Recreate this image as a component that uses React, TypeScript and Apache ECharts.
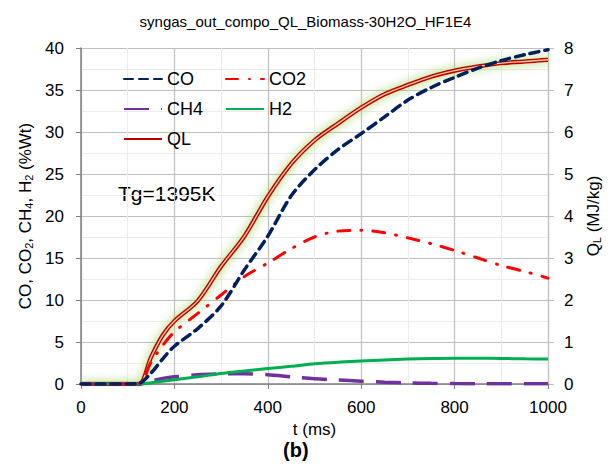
import React, { useEffect, useRef } from "react";
import * as echarts from "echarts";

const times = [0, 50, 100, 125, 150, 175, 200, 250, 300, 350, 400, 450, 500, 550, 600, 650, 700, 750, 800, 850, 900, 950, 1000];
const co = [0, 0, 0, 0.1, 1.3, 3.0, 4.5, 6.6, 9.3, 13.6, 17.6, 22.4, 25.5, 27.9, 29.8, 31.8, 33.8, 35.3, 36.5, 37.6, 38.5, 39.2, 39.8];
const co2 = [0, 0, 0, 0.1, 2.6, 4.6, 6.2, 8.4, 10.6, 12.8, 14.4, 16.1, 17.5, 18.2, 18.3, 18.0, 17.4, 16.7, 15.9, 15.0, 14.1, 13.4, 12.6];
const ch4 = [0, 0, 0, 0, 0.35, 0.65, 0.85, 1.1, 1.2, 1.22, 1.1, 0.85, 0.62, 0.47, 0.34, 0.22, 0.13, 0.08, 0.05, 0.04, 0.03, 0.02, 0.02];
const h2 = [0, 0, 0, 0, 0.15, 0.32, 0.5, 0.85, 1.25, 1.55, 1.85, 2.1, 2.4, 2.6, 2.74, 2.87, 2.97, 3.03, 3.06, 3.06, 3.04, 3.0, 2.97];
const ql = [0, 0, 0, 0, 0.64, 1.16, 1.5, 1.98, 2.8, 3.52, 4.46, 5.24, 5.8, 6.2, 6.58, 6.9, 7.12, 7.32, 7.46, 7.56, 7.64, 7.68, 7.72];

const xTicks = { min: 0, max: 1000, interval: 200 };
const yLeft = { min: 0, max: 40, interval: 5 };
const yRight = { min: 0, max: 8, interval: 1 };

const FONT = "'Liberation Sans', Arial, sans-serif";

const mk = (arr: number[]) => times.map((t, i) => [t, arr[i]]);

export default function App() {
  const ref = useRef<HTMLDivElement>(null);
  useEffect(() => {
    if (!ref.current) return;
    const chart = echarts.init(ref.current, undefined, { renderer: "svg" });
    const axisLabel = { fontSize: 17, color: "#000", fontFamily: FONT, formatter: (v: number) => String(v) };
    const lineBase = { type: "line", symbol: "none", showSymbol: false, smooth: 0.3 };
    const legendBase = {
      orient: "vertical",
      top: 65,
      itemWidth: 38,
      itemHeight: 14,
      itemGap: 12,
      itemStyle: { opacity: 0, borderWidth: 0 },
      textStyle: { fontSize: 18, color: "#000", fontFamily: FONT },
    };
    chart.setOption({
      animation: false,
      backgroundColor: "#fff",
      textStyle: { fontFamily: FONT },
      title: {
        text: "syngas_out_compo_QL_Biomass-30H2O_HF1E4",
        left: "center",
        top: 9,
        textStyle: { fontSize: 15, fontWeight: "normal", color: "#000", fontFamily: FONT },
      },
      grid: { left: 81, right: 63, top: 48, bottom: 84 },
      legend: [
        { ...legendBase, data: ["CO", "CH4", "QL"], left: 118 },
        { ...legendBase, data: ["CO2", "H2"], left: 220 },
      ],
      xAxis: {
        type: "value",
        ...xTicks,
        name: "t (ms)",
        nameLocation: "middle",
        nameGap: 36,
        nameTextStyle: { fontSize: 17, color: "#000", fontFamily: FONT },
        axisLine: { show: true, lineStyle: { color: "#7f7f7f", width: 1.5 } },
        axisTick: { show: true, length: 5, lineStyle: { color: "#7f7f7f" } },
        axisLabel: { ...axisLabel, margin: 15 },
        splitLine: { show: true, lineStyle: { color: "#bfbfbf", width: 1.2 } },
        minorTick: { show: false, splitNumber: 2 },
        minorSplitLine: { show: true, lineStyle: { color: "#ececec", width: 1 } },
      },
      yAxis: [
        {
          type: "value",
          ...yLeft,
          name: "CO, CO{s|2}, CH{s|4}, H{s|2} (%Wt)",
          nameLocation: "middle",
          nameRotate: 90,
          nameGap: 44,
          nameTextStyle: {
            fontSize: 17,
            color: "#000",
            fontFamily: FONT,
            rich: { s: { fontSize: 11, verticalAlign: "bottom", color: "#000", fontFamily: FONT } },
          },
          axisLine: { show: true, lineStyle: { color: "#7f7f7f", width: 1.5 } },
          axisTick: { show: true, length: 5, lineStyle: { color: "#7f7f7f" } },
          axisLabel: { ...axisLabel, margin: 17 },
          splitLine: { show: true, lineStyle: { color: "#bfbfbf", width: 1.2 } },
          minorTick: { show: false, splitNumber: 2 },
          minorSplitLine: { show: true, lineStyle: { color: "#ececec", width: 1 } },
        },
        {
          type: "value",
          ...yRight,
          position: "right",
          name: "Q{s|L} (MJ/kg)",
          nameLocation: "middle",
          nameRotate: 90,
          nameGap: 37,
          nameTextStyle: {
            fontSize: 17,
            color: "#000",
            fontFamily: FONT,
            rich: { s: { fontSize: 11, verticalAlign: "bottom", color: "#000", fontFamily: FONT } },
          },
          axisLine: { show: true, lineStyle: { color: "#bfbfbf", width: 1.2 } },
          axisTick: { show: true, length: 6, lineStyle: { color: "#bfbfbf" } },
          axisLabel: { ...axisLabel, margin: 16 },
          splitLine: { show: false },
        },
      ],
      series: [
        {
          ...lineBase,
          name: "QL",
          yAxisIndex: 1,
          data: mk(ql),
          color: "#c00000",
          z: 2,
          lineStyle: {
            color: "#c00000",
            width: 4.5,
            shadowColor: "rgba(146,208,80,1)",
            shadowBlur: 10,
          },
        },
        {
          ...lineBase,
          name: "QL-inner",
          yAxisIndex: 1,
          data: mk(ql),
          color: "#f6c7a8",
          z: 3,
          lineStyle: { color: "#f6c7a8", width: 1.4 },
        },
        {
          ...lineBase,
          name: "CH4",
          data: mk(ch4),
          color: "#7030a0",
          z: 4,
          lineStyle: { color: "#7030a0", width: 3.5, type: [25, 12] },
        },
        {
          ...lineBase,
          name: "H2",
          data: mk(h2),
          color: "#00b050",
          z: 5,
          lineStyle: { color: "#00b050", width: 3 },
        },
        {
          ...lineBase,
          name: "CO2",
          data: mk(co2),
          color: "#ff0000",
          z: 6,
          lineStyle: { color: "#ff0000", width: 3, type: [12, 11, 1, 11], cap: "round" },
        },
        {
          ...lineBase,
          name: "CO",
          data: mk(co),
          color: "#002060",
          z: 7,
          lineStyle: { color: "#002060", width: 3.5, type: [9, 6], cap: "round" },
        },
      ],
      graphic: [
        {
          type: "text",
          left: 118,
          top: 183,
          style: { text: "Tg=1395K", fontSize: 21, fill: "#000", fontFamily: FONT },
        },
        {
          type: "text",
          left: 283,
          top: 440,
          style: { text: "(b)", fontSize: 20, fontWeight: "bold", fill: "#000", fontFamily: FONT },
        },
      ],
    });
    return () => chart.dispose();
  }, []);
  return (
    <div
      ref={ref}
      style={{ position: "fixed", left: 0, top: 0, width: 611, height: 468, background: "#fff" }}
    />
  );
}
